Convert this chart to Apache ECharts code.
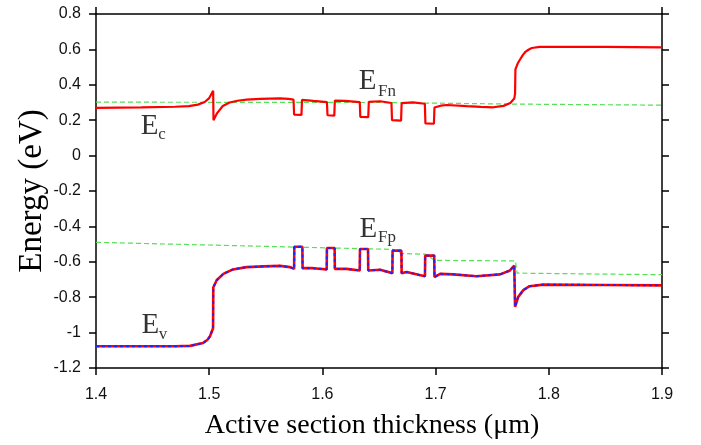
<!DOCTYPE html>
<html>
<head>
<meta charset="utf-8">
<script src="https://cdn.jsdelivr.net/npm/echarts@6/dist/echarts.min.js"></script>
<style>html,body{margin:0;padding:0;background:#fff;}#c{width:701px;height:445px;}</style>
</head>
<body>
<div id="c"></div>
<script>
// x tick values and y range
const xTicks = [1.4, 1.5, 1.6, 1.7, 1.8, 1.9];
const yTicks = [-1.2, -1, -0.8, -0.6, -0.4, -0.2, 0, 0.2, 0.4, 0.6, 0.8];

// Conduction band edge Ec  [thickness (um), energy (eV)]
const ecPoints = [
  [1.400,0.270],[1.440,0.272],[1.470,0.276],[1.482,0.280],[1.490,0.288],[1.496,0.303],[1.500,0.325],[1.5035,0.366],
  [1.5038,0.200],[1.507,0.240],[1.512,0.280],[1.518,0.300],[1.525,0.310],[1.533,0.316],[1.545,0.320],[1.5625,0.323],[1.570,0.320],[1.5745,0.316],
  [1.575,0.232],[1.5815,0.230],[1.582,0.315],
  [1.592,0.309],[1.604,0.302],
  [1.6045,0.228],[1.6105,0.226],[1.611,0.311],
  [1.620,0.309],[1.633,0.302],
  [1.6335,0.219],[1.6405,0.217],[1.641,0.304],
  [1.651,0.307],[1.661,0.297],
  [1.6615,0.200],[1.6695,0.198],[1.670,0.296],
  [1.680,0.301],[1.6905,0.293],
  [1.691,0.182],[1.6985,0.180],[1.699,0.272],
  [1.7045,0.282],[1.710,0.286],[1.7275,0.279],[1.740,0.275],[1.751,0.273],[1.760,0.281],[1.766,0.297],[1.7695,0.322],
  [1.7702,0.350],[1.7705,0.487],[1.7725,0.520],[1.7746,0.543],[1.777,0.568],[1.779,0.584],[1.782,0.598],[1.785,0.608],[1.792,0.614],[1.850,0.614],[1.900,0.612]
];

// Valence band edge Ev
const evPoints = [
  [1.400,-1.077],[1.470,-1.077],[1.483,-1.075],[1.4945,-1.059],[1.4985,-1.040],[1.5007,-1.021],[1.5034,-0.975],
  [1.5036,-0.745],[1.5066,-0.704],[1.5125,-0.668],[1.521,-0.643],[1.533,-0.630],[1.548,-0.626],[1.5625,-0.623],[1.5714,-0.630],[1.575,-0.640],
  [1.5752,-0.515],[1.5823,-0.515],[1.5825,-0.636],
  [1.5917,-0.636],[1.6038,-0.643],
  [1.604,-0.522],[1.6108,-0.522],[1.611,-0.640],
  [1.6215,-0.640],[1.633,-0.649],
  [1.6332,-0.528],[1.6403,-0.528],[1.6405,-0.649],
  [1.642,-0.640],[1.651,-0.645],[1.6618,-0.664],
  [1.662,-0.537],[1.6698,-0.537],[1.670,-0.664],
  [1.6745,-0.658],[1.6906,-0.682],
  [1.6908,-0.565],[1.6988,-0.565],[1.699,-0.686],
  [1.704,-0.668],[1.7156,-0.671],[1.736,-0.682],[1.757,-0.671],[1.7657,-0.649],[1.7695,-0.621],
  [1.7702,-0.854],[1.773,-0.798],[1.7775,-0.760],[1.783,-0.738],[1.795,-0.729],[1.850,-0.731],[1.900,-0.733]
];

// Quasi-Fermi levels
const efnPoints = [[1.4,0.302],[1.65,0.300],[1.77,0.291],[1.9,0.285]];
const efpPoints = [[1.4,-0.490],[1.662,-0.530],[1.670,-0.553],[1.691,-0.557],[1.699,-0.592],[1.7705,-0.595],[1.772,-0.664],[1.9,-0.673]];

// Band labels: main letter and subscript, placed in data coordinates
const labelMain = [
  {text:'E', at:[1.4473,0.166]},
  {text:'E', at:[1.6400,0.420]},
  {text:'E', at:[1.6405,-0.418]},
  {text:'E', at:[1.4481,-0.960]}
];
const labelSub = [
  {text:'c', at:[1.4583,0.118]},
  {text:'Fn', at:[1.657,0.362]},
  {text:'Fp', at:[1.657,-0.465]},
  {text:'v', at:[1.4592,-1.009]}
];

const chart = echarts.init(document.getElementById('c'), null, {renderer:'canvas'});
const axisLine = {show:true, onZero:false, lineStyle:{color:'#000', width:1.5}};
const tick = {show:true, inside:false, length:7, lineStyle:{color:'#000', width:1.5}};
const tickFont = {color:'#111', fontFamily:'Liberation Sans', fontSize:16};

function textSeries(items, size) {
  return {
    type:'scatter', symbolSize:0, silent:true, z:10,
    data: items.map(d => ({value:d.at, label:{formatter:d.text}})),
    label:{show:true, position:'inside', color:'#000', fontFamily:'Liberation Serif', fontSize:size}
  };
}

chart.setOption({
  animation:false,
  backgroundColor:'#fff',
  grid:{left:96, right:39, top:14, bottom:73, containLabel:false},
  xAxis:[{
    type:'value', min:1.4, max:1.9, interval:0.1, position:'bottom',
    axisLine:axisLine, axisTick:tick, splitLine:{show:false},
    axisLabel:Object.assign({margin:19, formatter:v=>String(Math.round(v*10)/10)}, tickFont),
    name:'Active section thickness (\u03bcm)', nameLocation:'middle', nameGap:44,
    nameTextStyle:{fontFamily:'Liberation Serif', fontSize:28, color:'#000', padding:[0,14,0,0]}
  },{
    type:'value', min:1.4, max:1.9, interval:0.1, position:'top',
    axisLine:axisLine, axisTick:tick, axisLabel:{show:false}, splitLine:{show:false}
  }],
  yAxis:[{
    type:'value', min:-1.2, max:0.8, interval:0.2, position:'left',
    axisLine:axisLine, axisTick:tick, splitLine:{show:false},
    axisLabel:Object.assign({margin:15, formatter:v=>String(Math.round(v*10)/10)}, tickFont),
    name:'Energy (eV)', nameLocation:'middle', nameGap:47, nameMoveOverlap:false,
    nameTextStyle:{fontFamily:'Liberation Serif', fontSize:33, color:'#000'}
  },{
    type:'value', min:-1.2, max:0.8, interval:0.2, position:'right',
    axisLine:axisLine, axisTick:tick, axisLabel:{show:false}, splitLine:{show:false}
  }],
  series:[
    {type:'line', data:efnPoints, showSymbol:false, silent:true, z:2,
     lineStyle:{color:'#55e055', width:1.2, type:[5,3]}},
    {type:'line', data:efpPoints, showSymbol:false, silent:true, z:2,
     lineStyle:{color:'#55e055', width:1.2, type:[5,3]}},
    {type:'line', data:ecPoints, showSymbol:false, silent:true, z:3,
     lineStyle:{color:'#ff0000', width:2.2}},
    {type:'line', data:evPoints, showSymbol:false, silent:true, z:3,
     lineStyle:{color:'#ff0000', width:2.6}},
    {type:'line', data:evPoints, showSymbol:false, silent:true, z:4,
     lineStyle:{color:'#2222ff', width:2, type:[3,3]}},
    textSeries(labelMain, 29),
    textSeries(labelSub, 17)
  ]
});
</script>
</body>
</html>
